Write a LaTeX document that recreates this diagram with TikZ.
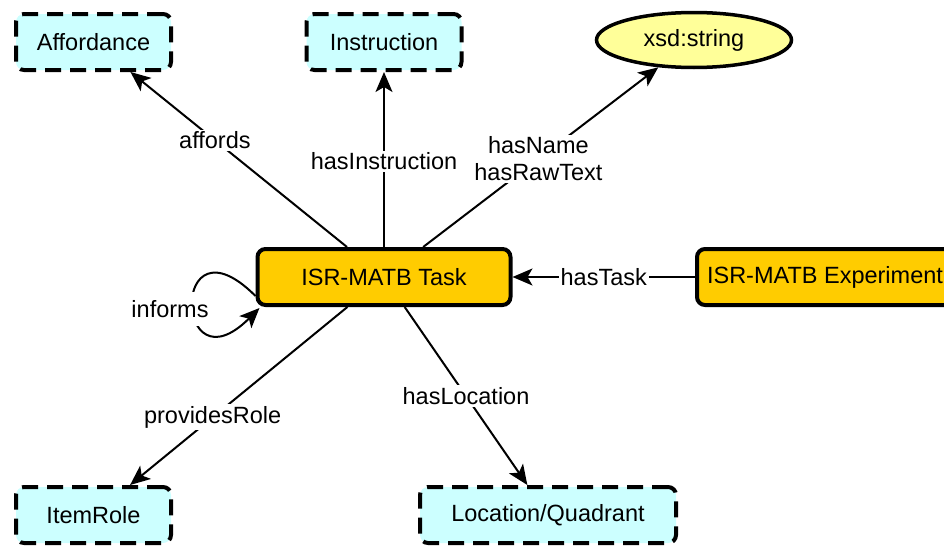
\documentclass[tikz,border=0pt]{standalone}
\usepackage{fontspec}
\setmainfont{Liberation Sans}
\usetikzlibrary{arrows.meta,shapes.geometric}
\definecolor{cyanfill}{HTML}{CCFFFF}
\definecolor{taskfill}{HTML}{FFCC00}
\definecolor{litfill}{HTML}{FFFF99}
\begin{document}
\begin{tikzpicture}[x=1pt,y=-1pt,
  font=\fontsize{23.5}{27}\selectfont,
  clsbox/.style={draw, line width=4pt, dash pattern=on 16pt off 9pt, rounded corners=8pt,
    fill=cyanfill, minimum width=155pt, minimum height=56pt, inner sep=0pt},
  mainbox/.style={draw, line width=4pt, rounded corners=8pt, fill=taskfill,
    minimum height=56pt, inner sep=0pt},
  litnode/.style={draw, ellipse, line width=3.5pt, fill=litfill,
    minimum width=195pt, minimum height=55pt, inner sep=0pt},
  edge/.style={line width=2pt, -{Stealth[length=20pt,width=17pt,inset=5pt]}},
  lbl/.style={fill=white, inner sep=2pt, align=center}
]
\useasboundingbox (0,0) rectangle (944,546);

\node[clsbox] (aff) at (93.5,42) {Affordance};
\node[clsbox] (ins) at (384,42) {Instruction};
\node[litnode] (xsd) at (694,40) {xsd:string};
\node[mainbox, minimum width=253pt] (task) at (384,277) {ISR-MATB Task};
\node[mainbox, minimum width=256pt] (exp) at (825,277) {ISR-MATB Experiment};
\node[clsbox] (role) at (93.5,515) {ItemRole};
\node[clsbox, minimum width=256pt] (loc) at (548,515) {Location/Quadrant};

\draw[edge] (task) -- node[lbl, pos=0.61] {affords} (aff);
\draw[edge] (task) -- node[lbl, pos=0.49] {hasInstruction} (ins);
\draw[edge] (task) -- node[lbl, pos=0.49] {hasName\\hasRawText} (xsd);
\draw[edge] (task) -- node[lbl, pos=0.62] {providesRole} (role);
\draw[edge] (task) -- node[lbl, pos=0.5] {hasLocation} (loc);
\draw[edge] (exp) -- node[lbl, pos=0.5] {hasTask} (task);

\draw[edge] ([yshift=-19pt]task.west) .. controls +(-86,-86) and +(-86,86) .. ([xshift=4pt,yshift=-31pt]task.west);
\node[lbl, inner xsep=1pt, inner ysep=8pt] (inf) at (170,309) {informs};
\end{tikzpicture}
\end{document}
